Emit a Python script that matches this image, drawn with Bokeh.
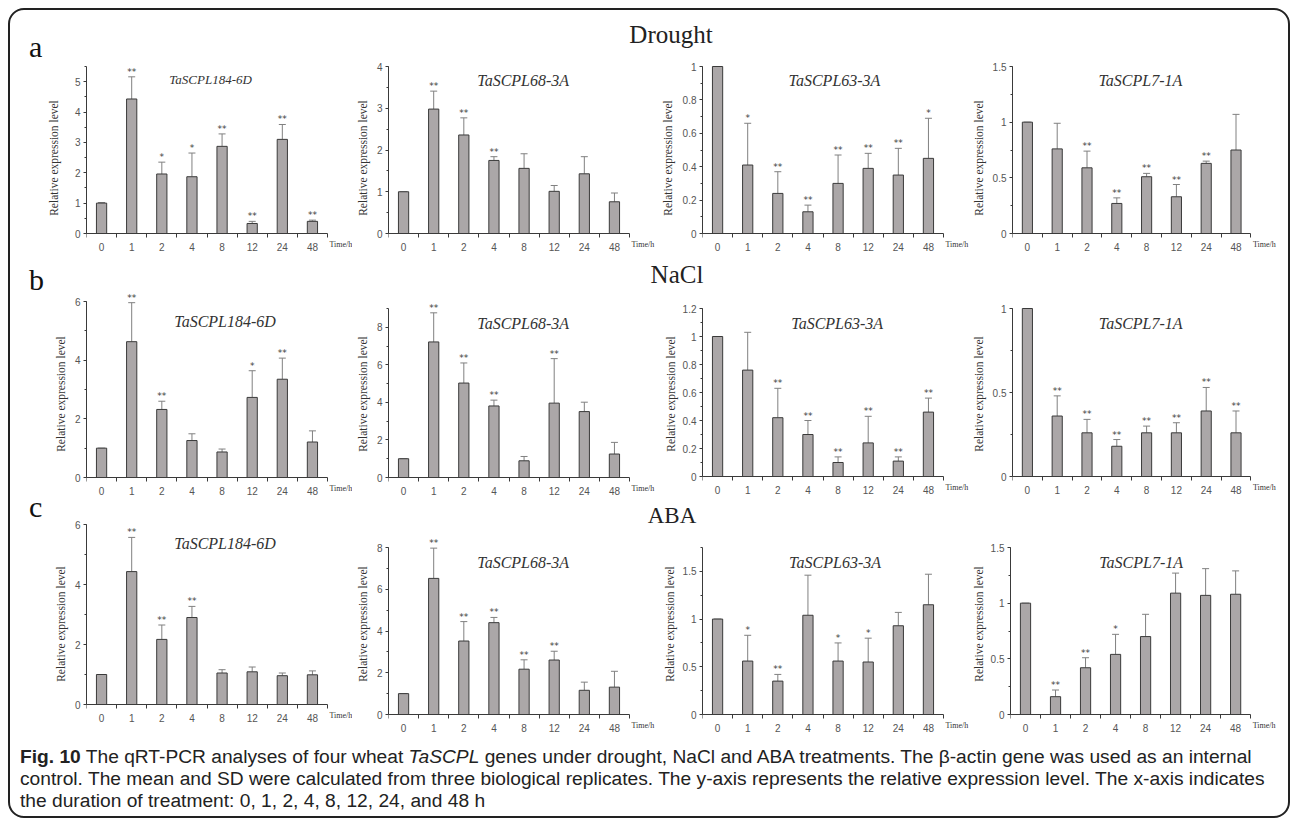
from bokeh.plotting import figure
from bokeh.models import ColumnDataSource, FixedTicker, Whisker, TeeHead, Label, Div, Range1d
from bokeh.layouts import row, column
from bokeh.embed import file_html
from bokeh.resources import INLINE
from bokeh.core.properties import value

# ---------------- data ----------------
times = ["0", "1", "2", "4", "8", "12", "24", "48"]
genes = ["TaSCPL184-6D", "TaSCPL68-3A", "TaSCPL63-3A", "TaSCPL7-1A"]
treatments = ["Drought", "NaCl", "ABA"]
row_letters = ["a", "b", "c"]

# Drought
drought_184 = [1.0, 4.43, 1.96, 1.87, 2.87, 0.33, 3.10, 0.40]
drought_184_sd = [0.02, 0.73, 0.39, 0.78, 0.41, 0.07, 0.49, 0.04]
drought_184_sig = ["", "**", "*", "*", "**", "**", "**", "**"]
drought_68 = [1.0, 2.98, 2.36, 1.75, 1.56, 1.01, 1.43, 0.76]
drought_68_sd = [0.0, 0.43, 0.41, 0.09, 0.35, 0.14, 0.41, 0.21]
drought_68_sig = ["", "**", "**", "**", "", "", "", ""]
drought_63 = [1.0, 0.41, 0.24, 0.13, 0.30, 0.39, 0.35, 0.45]
drought_63_sd = [0.0, 0.25, 0.13, 0.04, 0.17, 0.09, 0.16, 0.24]
drought_63_sig = ["", "*", "**", "**", "**", "**", "**", "*"]
drought_7 = [1.0, 0.76, 0.59, 0.27, 0.51, 0.33, 0.63, 0.75]
drought_7_sd = [0.0, 0.23, 0.15, 0.05, 0.03, 0.11, 0.02, 0.32]
drought_7_sig = ["", "", "**", "**", "**", "**", "**", ""]

# NaCl
nacl_184 = [1.0, 4.63, 2.32, 1.26, 0.87, 2.73, 3.35, 1.21]
nacl_184_sd = [0.0, 1.33, 0.28, 0.23, 0.10, 0.91, 0.72, 0.38]
nacl_184_sig = ["", "**", "**", "", "", "*", "**", ""]
nacl_68 = [1.0, 7.22, 5.03, 3.81, 0.89, 3.96, 3.51, 1.25]
nacl_68_sd = [0.0, 1.55, 1.07, 0.31, 0.23, 2.37, 0.50, 0.62]
nacl_68_sig = ["", "**", "**", "**", "", "**", "", ""]
nacl_63 = [1.0, 0.76, 0.42, 0.30, 0.10, 0.24, 0.11, 0.46]
nacl_63_sd = [0.0, 0.27, 0.21, 0.10, 0.04, 0.19, 0.03, 0.10]
nacl_63_sig = ["", "", "**", "**", "**", "**", "**", "**"]
nacl_7 = [1.0, 0.36, 0.26, 0.18, 0.26, 0.26, 0.39, 0.26]
nacl_7_sd = [0.0, 0.12, 0.08, 0.04, 0.04, 0.06, 0.14, 0.13]
nacl_7_sig = ["", "**", "**", "**", "**", "**", "**", "**"]

# ABA
aba_184 = [1.0, 4.43, 2.17, 2.90, 1.05, 1.09, 0.96, 0.99]
aba_184_sd = [0.0, 1.14, 0.48, 0.37, 0.11, 0.16, 0.09, 0.13]
aba_184_sig = ["", "**", "**", "**", "", "", "", ""]
aba_68 = [1.0, 6.52, 3.52, 4.40, 2.17, 2.61, 1.16, 1.31]
aba_68_sd = [0.0, 1.45, 0.93, 0.25, 0.45, 0.42, 0.39, 0.76]
aba_68_sig = ["", "**", "**", "**", "**", "**", "", ""]
aba_63 = [1.0, 0.56, 0.35, 1.04, 0.56, 0.55, 0.93, 1.15]
aba_63_sd = [0.0, 0.27, 0.07, 0.42, 0.19, 0.25, 0.14, 0.32]
aba_63_sig = ["", "*", "**", "", "*", "*", "", ""]
aba_7 = [1.0, 0.16, 0.42, 0.54, 0.70, 1.09, 1.07, 1.08]
aba_7_sd = [0.0, 0.06, 0.09, 0.18, 0.20, 0.18, 0.24, 0.21]
aba_7_sig = ["", "**", "**", "*", "", "", "", ""]

# y-axis tick labels per panel
yt_a1 = [0, 1, 2, 3, 4, 5]
yt_a2 = [0, 1, 2, 3, 4]
yt_a3 = [0, 0.2, 0.4, 0.6, 0.8, 1]
yt_a4 = [0, 0.5, 1, 1.5]
yt_b1 = [0, 2, 4, 6]
yt_b2 = [0, 2, 4, 6, 8]
yt_b3 = [0, 0.2, 0.4, 0.6, 0.8, 1, 1.2]
yt_b4 = [0, 0.5, 1]
yt_c1 = [0, 2, 4, 6]
yt_c2 = [0, 2, 4, 6, 8]
yt_c3 = [0, 0.5, 1, 1.5]
yt_c4 = [0, 0.5, 1, 1.5]
y_max = [[5.5, 4, 1, 1.5], [6, 9, 1.2, 1], [6, 8, 1.75, 1.5]]
y_minor_step = [[0.5, 0.5, 0.1, 0.25], [1, 1, 0.1, 0.25], [1, 1, 0.25, 0.25]]

means = [[drought_184, drought_68, drought_63, drought_7],
         [nacl_184, nacl_68, nacl_63, nacl_7],
         [aba_184, aba_68, aba_63, aba_7]]
sds = [[drought_184_sd, drought_68_sd, drought_63_sd, drought_7_sd],
       [nacl_184_sd, nacl_68_sd, nacl_63_sd, nacl_7_sd],
       [aba_184_sd, aba_68_sd, aba_63_sd, aba_7_sd]]
sigs = [[drought_184_sig, drought_68_sig, drought_63_sig, drought_7_sig],
        [nacl_184_sig, nacl_68_sig, nacl_63_sig, nacl_7_sig],
        [aba_184_sig, aba_68_sig, aba_63_sig, aba_7_sig]]
yticks = [[yt_a1, yt_a2, yt_a3, yt_a4], [yt_b1, yt_b2, yt_b3, yt_b4], [yt_c1, yt_c2, yt_c3, yt_c4]]

# ---------------- layout / style (pixels, relative to the page) ----------------
ORIGIN = 8
AXIS_W = 241                        # pixel length of the 8-category x axis
fig_widths = [344, 305, 312, 319]
fig_left = [78, 36, 45, 40]         # frame left inside each figure
row_top = [60, 290, 512]            # canvas top of each row (page px)
row_heights = [195, 207, 223]
header_heights = [52, 35, 15]
zero_px = [[233, 233, 233, 233], [477, 477, 476, 476], [704, 714, 714, 714]]
top_px = [[66, 66, 66, 66], [301, 308, 308, 308], [524, 547, 547, 547]]
label_standoff = [[12, 5, 6, 5], [5, 5, 3, 5], [5, 5, 4, 3]]
title_x = [[4.12, 4.47, 4.38, 4.29], [4.6, 4.47, 4.47, 4.3], [4.6, 4.47, 4.4, 4.35]]
title_dy = [[13, 14, 14, 14], [20, 15, 15, 15], [19, 15, 15, 15]]
title_size = [[13, 16, 16, 16], [16, 16, 16, 16], [16, 16, 16, 16]]

BAR_FILL = "#aba7a8"
BAR_LINE = "#3a3a3a"
AXIS = "#3a3a3a"
TICKLAB = "#555555"
SERIF = "Liberation Serif"
SANS = "Liberation Sans"


def fmt(t):
    return ("%g" % t)


def make_panel(r, c):
    ymax = y_max[r][c]
    W = fig_widths[c]
    H = row_heights[r]
    n = len(times)
    frame_w = W - fig_left[c]
    x_end = n * frame_w / AXIS_W
    # y range so that 0 and ymax land on the reference pixel rows
    f_top = row_top[r]
    f_bot = row_top[r] + H
    s = (zero_px[r][c] - top_px[r][c]) / ymax
    y_start = -(f_bot - zero_px[r][c]) / s
    y_end = ymax + (top_px[r][c] - f_top) / s

    p = figure(width=W, height=H, x_range=Range1d(0, x_end), y_range=Range1d(y_start, y_end),
               output_backend="svg", toolbar_location=None,
               min_border_left=fig_left[c], min_border_right=0,
               min_border_top=0, min_border_bottom=0,
               border_fill_color=None, background_fill_color=None, outline_line_color=None)
    p.grid.visible = False

    xs = [i + 0.5 for i in range(n)]
    m = means[r][c]
    sd = sds[r][c]
    up = [a + b for a, b in zip(m, sd)]
    src = ColumnDataSource(dict(x=xs, top=m, upper=up, sig=sigs[r][c]))

    wh = Whisker(source=src, base="x", lower="top", upper="upper", dimension="height",
                 line_color="#808080", line_width=1,
                 upper_head=TeeHead(size=7, line_color="#808080", line_width=1), lower_head=None,
                 level="underlay")
    p.add_layout(wh)
    p.vbar(x="x", top="top", bottom=0, width=0.34, source=src, fill_color=BAR_FILL,
           line_color=BAR_LINE, line_width=1)
    p.text(x="x", y="upper", text="sig", source=src, text_align="center", text_baseline="bottom",
           text_font=value("DejaVu Sans"), text_font_size="9px", text_color="#3c3c3c")

    # y axis
    ya = p.yaxis[0]
    yt = yticks[r][c]
    step = y_minor_step[r][c]
    n_minor = int(round(ymax / step))
    ya.bounds = (0, ymax)
    ya.ticker = FixedTicker(ticks=yt, minor_ticks=[k * step for k in range(n_minor + 1)])
    ya.major_label_overrides = {t: fmt(t) for t in yt}
    ya.axis_line_color = AXIS
    ya.major_tick_line_color = AXIS
    ya.minor_tick_line_color = AXIS
    ya.major_tick_out = 3
    ya.major_tick_in = 0
    ya.minor_tick_out = 2
    ya.minor_tick_in = 0
    ya.major_label_standoff = 3
    ya.major_label_text_font = SANS
    ya.major_label_text_font_size = "10px"
    ya.major_label_text_color = TICKLAB
    ya.axis_label = "Relative expression level"
    ya.axis_label_text_font = SERIF
    ya.axis_label_text_font_style = "normal"
    ya.axis_label_text_font_size = "11.5px"
    ya.axis_label_text_color = "#333333"
    ya.axis_label_standoff = label_standoff[r][c]

    # x axis, sitting on y = 0
    xa = p.xaxis[0]
    xa.fixed_location = 0
    xa.bounds = (0, n)
    xa.ticker = FixedTicker(ticks=xs, minor_ticks=list(range(n + 1)))
    xa.major_label_overrides = {x: t for x, t in zip(xs, times)}
    xa.axis_line_color = AXIS
    xa.major_tick_line_color = None
    xa.major_tick_out = 0
    xa.major_tick_in = 0
    xa.minor_tick_line_color = AXIS
    xa.minor_tick_out = 4
    xa.minor_tick_in = 0
    xa.major_label_standoff = 5
    xa.major_label_text_font = SANS
    xa.major_label_text_font_size = "10px"
    xa.major_label_text_color = TICKLAB

    p.add_layout(Label(x=n, y=0, x_offset=2, y_offset=-11, text="Time/h",
                       text_font=SERIF, text_font_size="8px", text_color="#333333",
                       text_baseline="middle", text_align="left"))
    p.add_layout(Label(x=title_x[r][c], y=ymax, y_offset=-title_dy[r][c], text=genes[c],
                       text_font=SERIF, text_font_style="italic",
                       text_font_size="%dpx" % title_size[r][c], text_color="#333333",
                       text_align="center", text_baseline="alphabetic"))
    return p


def header(letter, title, height, letter_top, title_top, title_cx, title_size, border=False):
    html = '<div style="position:relative;width:1280px;height:%dpx;">' % height
    if border:
        html += ('<div style="position:absolute;left:0px;top:0px;width:1282px;height:810px;'
                 'border:2px solid #222;border-radius:16px;box-sizing:border-box;'
                 'pointer-events:none;"></div>')
    html += ('<span style="position:absolute;left:21px;top:%.1fpx;font-family:\'Liberation Serif\';'
             'font-size:30px;line-height:30px;color:#111;">%s</span>' % (letter_top, letter))
    html += ('<span style="position:absolute;left:%dpx;top:%.1fpx;transform:translateX(-50%%);'
             'font-family:\'Liberation Serif\';font-size:%dpx;line-height:%dpx;color:#222;'
             'white-space:nowrap;">%s</span>' % (title_cx, title_top, title_size, title_size, title))
    html += '</div>'
    return Div(text=html, width=1280, height=height, margin=0, styles={"overflow": "visible"})


hdr_a = header(row_letters[0], treatments[0], header_heights[0], 49 - 25.1, 35 - 20.9, 663, 25, border=True)
hdr_b = header(row_letters[1], treatments[1], header_heights[1], 35 - 25.1, 28 - 20.9, 669, 25)
hdr_c = header(row_letters[2], treatments[2], header_heights[2], 20 - 25.1, 26 - 19.3, 664, 23)

rows = []
for r in range(3):
    rows.append(row([make_panel(r, c) for c in range(4)], spacing=0, margin=0))

caption_html = (
    '<div style="padding:11px 0 0 12px;font-family:\'Liberation Sans\';font-size:19.2px;line-height:22px;'
    'color:#222;white-space:nowrap;">'
    '<b>Fig. 10</b> The qRT-PCR analyses of four wheat <i>TaSCPL</i> genes under drought, NaCl and ABA '
    'treatments. The β-actin gene was used as an internal<br>'
    'control. The mean and SD were calculated from three biological replicates. The y-axis represents '
    'the relative expression level. The x-axis indicates<br>'
    'the duration of treatment: 0, 1, 2, 4, 8, 12, 24, and 48 h</div>')
caption = Div(text=caption_html, width=1280, height=81, margin=0, styles={"overflow": "visible"})

layout = column([hdr_a, rows[0], hdr_b, rows[1], hdr_c, rows[2], caption], spacing=0,
                margin=(ORIGIN, 0, 0, ORIGIN))

open("out.html", "w").write(file_html(layout, INLINE))
